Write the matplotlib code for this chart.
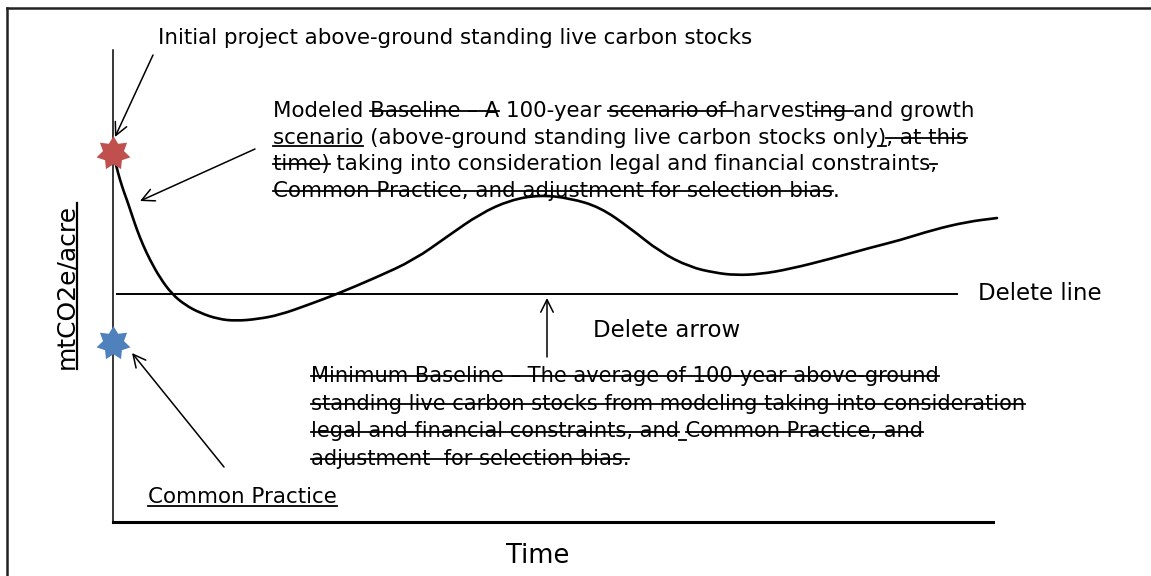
import matplotlib
matplotlib.use("Agg")
import matplotlib.pyplot as plt
from matplotlib.path import Path
from matplotlib.patches import PathPatch
from matplotlib.transforms import Affine2D
from matplotlib.lines import Line2D

# ---------------- data ----------------
years = [0, 0.34, 0.79, 1.24, 1.58, 2.15, 2.71, 3.39, 4.19, 5.32, 6.67, 8.14,
         9.84, 11.88, 13.91, 16.40, 18.89, 22.06, 25.34, 29.64, 34.05, 37.90,
         41.52, 44.91, 48.30, 51.70, 55.09, 58.48, 61.88, 65.27, 68.10, 70.36,
         73.19, 76.58, 81.45, 85.63, 89.03, 92.76, 96.61, 100.0]
modeled_stocks = [78.2, 75.6, 72.5, 69.9, 68.2, 65.0, 61.9, 58.7, 55.5, 51.7,
                  48.3, 46.0, 44.3, 43.0, 42.6, 43.0, 43.9, 46.0, 48.3, 51.7,
                  55.5, 60.6, 65.3, 68.2, 69.3, 68.6, 66.7, 62.3, 57.2, 54.0,
                  52.8, 52.3, 52.5, 53.6, 55.9, 58.1, 59.7, 61.9, 63.6, 64.4]
min_baseline_value = 48.3
min_baseline_span = [0.45, 95.5]
initial_stock = 78.2
common_practice_stock = 37.9

title_initial = "Initial project above-ground standing live carbon stocks"
modeled_lines = [
    [("Modeled ", ""), ("Baseline – A", "s"), (" 100-year ", ""), ("scenario of ", "s"),
     ("harvest", ""), ("ing ", "s"), ("and growth", "")],
    [("scenario", "u"), (" (above-ground standing live carbon stocks only", ""), (")", "u"),
     (", at this", "s")],
    [("time)", "s"), (" taking into consideration legal and financial constraints", ""), (",", "s")],
    [("Common Practice, and adjustment for selection bias", "s"), (".", "")],
]
minimum_lines = [
    [("Minimum Baseline – The average of 100-year above-ground", "s")],
    [("standing live carbon stocks from modeling taking into consideration", "s")],
    [("legal and financial constraints, and", "s"), (" ", "u"), ("Common Practice, and", "s")],
    [("adjustment  for selection bias.", "s")],
]
label_common = "Common Practice"
label_delete_line = "Delete line"
label_delete_arrow = "Delete arrow"
xlabel = "Time"
ylabel = "mtCO2e/acre"

# ---------------- figure ----------------
W, H = 1151, 576
FAM = "DejaVu Sans"
fig = plt.figure(figsize=(W / 100, H / 100), dpi=100)
fig.patch.set_facecolor("white")
renderer = fig.canvas.get_renderer()
# top-left origin pixel layout transform (for annotations / text placement)
T = Affine2D().scale(1 / W, -1 / H).translate(0, 1) + fig.transFigure

# outer frame (top and left edges visible)
fig.add_artist(Line2D([7, W], [8, 8], transform=T, color="#222222", lw=1.8))
fig.add_artist(Line2D([7, 7], [8, H], transform=T, color="#222222", lw=1.8))

ax = fig.add_axes([113 / W, 1 - 522 / H, 884 / W, 472 / H])
ax.set_xlim(0, 100)
ax.set_ylim(0, 100)
ax.patch.set_visible(False)
for s in ["top", "right"]:
    ax.spines[s].set_visible(False)
ax.spines["left"].set_linewidth(1.1)
ax.spines["bottom"].set_linewidth(2.2)
ax.spines["bottom"].set_bounds(0, 99.5)
ax.set_xticks([])
ax.set_yticks([])

# smooth curve drawn as a quadratic Bezier path through the read points
pts = list(zip(years, modeled_stocks))
verts = [pts[0]]
codes = [Path.MOVETO]
for i in range(1, len(pts) - 1):
    (xa, ya), (xb, yb) = pts[i], pts[i + 1]
    verts += [pts[i], ((xa + xb) / 2, (ya + yb) / 2)]
    codes += [Path.CURVE3, Path.CURVE3]
verts.append(pts[-1])
codes.append(Path.LINETO)
ax.add_patch(PathPatch(Path(verts, codes), facecolor="none", edgecolor="black",
                       lw=1.9, clip_on=False, capstyle="round", joinstyle="round"))

ax.plot(min_baseline_span, [min_baseline_value] * 2, color="black", lw=1.4)

star = Path.unit_regular_star(7, 0.62)
ax.plot([0], [initial_stock], marker=star, ms=25, color="#C0504D", mec="none",
        linestyle="none", clip_on=False, zorder=5)
ax.plot([0], [common_practice_stock], marker=star, ms=25, color="#4F81BD", mec="none",
        linestyle="none", clip_on=False, zorder=5)

# arrows
def arrow(tail, head):
    ax.annotate("", xy=head, xycoords=T, xytext=tail, textcoords=T,
                arrowprops=dict(arrowstyle="->,head_length=0.6,head_width=0.3",
                                lw=1.1, color="black", shrinkA=0, shrinkB=0,
                                mutation_scale=15))

arrow((153, 55), (115, 137))
arrow((255, 149), (140, 201))
arrow((224, 467), (132, 353))
arrow((547, 357), (547, 298))

# ---------------- text helpers ----------------
def text_width(s, size):
    if not s:
        return 0.0
    a = fig.text(0, 0, s + "|", fontsize=size, family=FAM)
    b = fig.text(0, 0, "|", fontsize=size, family=FAM)
    w = a.get_window_extent(renderer).width - b.get_window_extent(renderer).width
    a.remove()
    b.remove()
    return w

def rich_line(x, ybase, segments, size):
    full = "".join(s for s, _ in segments)
    fig.text(x, ybase, full, transform=T, fontsize=size, family=FAM,
             ha="left", va="baseline")
    fpx = size * 100 / 72
    prefix = ""
    for s, style in segments:
        x0 = x + text_width(prefix, size)
        x1 = x + text_width(prefix + s, size)
        if style == "s":
            yy = ybase - 0.27 * fpx
        elif style == "u":
            yy = ybase + 0.13 * fpx
        else:
            yy = None
        if yy is not None:
            fig.add_artist(Line2D([x0, x1], [yy, yy], transform=T, color="black", lw=1.3))
        prefix += s

MAIN = 15.4
fig.text(158, 44, title_initial, transform=T, fontsize=MAIN, family=FAM,
         ha="left", va="baseline")

for i, line in enumerate(modeled_lines):
    rich_line(273, 117 + i * 26.6, line, MAIN)

for i, line in enumerate(minimum_lines):
    rich_line(311, 382 + i * 27.7, line, 15.1)

rich_line(148, 503, [(label_common, "u")], MAIN)

fig.text(978, 300, label_delete_line, transform=T, fontsize=16.5, family=FAM,
         ha="left", va="baseline")
fig.text(593, 337, label_delete_arrow, transform=T, fontsize=16.5, family=FAM,
         ha="left", va="baseline")
fig.text(538, 563, xlabel, transform=T, fontsize=18.5, family=FAM,
         ha="center", va="baseline")

yl = fig.text(66, 286, ylabel, transform=T, fontsize=18, family=FAM,
              ha="center", va="center", rotation=90)
bb = yl.get_window_extent(renderer)
fig.add_artist(Line2D([77 / W, 77 / W], [bb.y0 / H, bb.y1 / H],
                      transform=fig.transFigure, color="black", lw=1.6))

fig.savefig("out.png", dpi=100)
